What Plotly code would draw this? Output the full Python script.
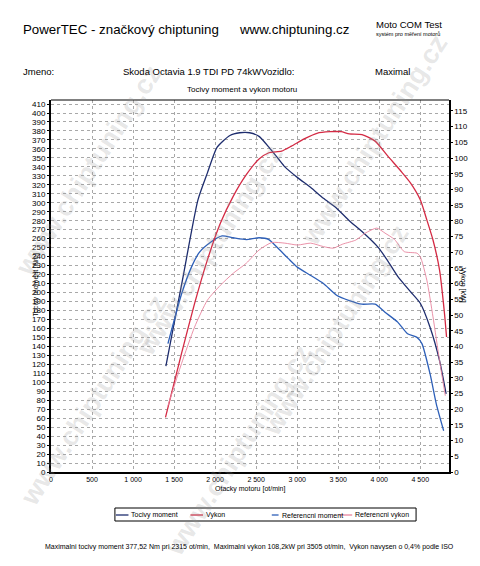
import plotly.graph_objects as go

# --- data ---
rpm_moment = [1400, 1600, 1790, 1905, 2025, 2180, 2300, 2420, 2535, 2655, 2770, 2850,
              3005, 3165, 3320, 3480, 3635, 3790, 3990, 4105, 4225, 4380, 4500, 4620, 4735, 4815]
tocivy_moment = [118, 213, 303, 333, 362, 375, 378, 378, 374, 362, 349, 340,
                 328, 317, 305, 294, 280, 268, 250, 235, 218, 201, 188, 161, 124, 87]

rpm_vykon = [1395, 1590, 1750, 1905, 2065, 2220, 2380, 2535, 2655, 2810, 2930, 3085, 3240,
             3400, 3535, 3635, 3790, 3950, 4105, 4265, 4380, 4500, 4580, 4655, 4735, 4795, 4820]
vykon = [17.4, 37.7, 53.7, 67.5, 79.3, 87.8, 94.7, 99.7, 101.7, 102.2, 103.8, 106.1, 107.9,
         108.4, 108.4, 107.7, 107.5, 105.4, 100.6, 95.8, 92.1, 86.7, 80.3, 73.9, 64.3, 50.5, 43]

rpm_ref_moment = [1425, 1590, 1710, 1810, 1945, 2085, 2220, 2380, 2535, 2655, 2770, 2890, 3005,
                  3165, 3320, 3480, 3635, 3790, 3950, 4070, 4225, 4345, 4460, 4520, 4620, 4695, 4785]
ref_moment = [143, 198, 228, 245, 256, 263, 261, 259, 261, 259, 249, 238, 228,
              219, 210, 197, 191, 187, 187, 178, 167, 154, 150, 143, 109, 76, 46]

rpm_ref_vykon = [1425, 1590, 1750, 1905, 2065, 2220, 2380, 2535, 2690, 2850, 3005, 3165, 3320,
                 3440, 3555, 3715, 3830, 3970, 4070, 4185, 4305, 4460, 4500, 4580, 4655, 4735, 4805]
ref_vykon = [21.1, 34.5, 46.2, 54.7, 59.5, 63.3, 66.5, 70.7, 73.1, 72.9, 72.3, 72.9, 71.8,
             71.3, 72.6, 73.9, 76.1, 77.7, 76.1, 74.1, 70.2, 69.7, 68.6, 61.1, 49.4, 35.5, 24.3]

x_ticks = [0, 500, 1000, 1500, 2000, 2500, 3000, 3500, 4000, 4500]
x_ticktext = ['0', '500', '1 000', '1 500', '2 000', '2 500', '3 000', '3 500', '4 000', '4 500']
moment_ticks = list(range(0, 420, 10))
vykon_ticks = list(range(0, 120, 5))

series_names = ['Tocivy moment', 'Vykon', 'Referencni moment', 'Referencni vykon']
series_colors = ['#1e2d6e', '#d42a44', '#2d5fb8', '#e8849e']

FONT = 'Arial, Liberation Sans, sans-serif'
W, H = 480, 566
L, R, T, B = 51, 18, 100, 94
PW, PH = W - L - R, H - T - B


def paper(x, y):
    # pixel position on the page -> paper coordinates
    return (x - L) / PW, (H - B - y) / PH


fig = go.Figure()

fig.add_trace(go.Scatter(x=rpm_moment, y=tocivy_moment, mode='lines', name=series_names[0],
                         line=dict(color=series_colors[0], width=1.3, shape='spline', smoothing=0.6)))
fig.add_trace(go.Scatter(x=rpm_ref_moment, y=ref_moment, mode='lines', name=series_names[2],
                         line=dict(color=series_colors[2], width=1.3, shape='spline', smoothing=0.6)))
fig.add_trace(go.Scatter(x=rpm_vykon, y=vykon, mode='lines', name=series_names[1], yaxis='y2',
                         line=dict(color=series_colors[1], width=1.3, shape='spline', smoothing=0.6)))
fig.add_trace(go.Scatter(x=rpm_ref_vykon, y=ref_vykon, mode='lines', name=series_names[3], yaxis='y2',
                         line=dict(color=series_colors[3], width=0.9, shape='spline', smoothing=0.6)))

annotations = []


def text(s, x, y, size, anchor='left', angle=0, color='black'):
    px_, py_ = paper(x, y)
    annotations.append(dict(text=s, x=px_, y=py_, xref='paper', yref='paper', showarrow=False,
                            xanchor=anchor, yanchor='middle', textangle=angle,
                            font=dict(family=FONT, size=size, color=color)))


# watermark, kept fully inside the page
for cx, cy in [(90, 170), (95, 400), (215, 250), (245, 450), (345, 330), (385, 140)]:
    text('<b>www.chiptuning.cz</b>', cx, cy, 27, anchor='center', angle=-57,
         color='rgba(150,150,150,0.24)')

# header
text('PowerTEC - značkový chiptuning', 20, 30, 13.3)
text('www.chiptuning.cz', 243, 30, 13.3)
text('Moto COM Test', 385, 25, 9.5)
text('systém pro měření motorů', 385, 34, 5.5)
text('Jmeno:', 20, 71, 9.5)
text('Skoda Octavia 1.9 TDI PD 74kWVozidlo:', 123, 71, 9.5)
text('Maximal', 384, 71, 9.5)
text('Tocivy moment a vykon motoru', 248, 89, 8, anchor='center')

# axis titles
text('Tocivy moment [Nm]', 35, 285, 7, anchor='center', angle=-90)
text('Vykon [kW]', 476, 285, 7, anchor='center', angle=90)
text('Otacky motoru [ot/min]', 257, 489, 7, anchor='center')

# hand-made legend
shapes = []
bx0, by0 = paper(117, 521)
bx1, by1 = paper(428, 508)
shapes.append(dict(type='rect', xref='paper', yref='paper', x0=bx0, y0=by0, x1=bx1, y1=by1,
                   line=dict(color='black', width=1), fillcolor='white'))
leg_sample = [(118, 131), (195, 208), (279, 286), (348, 362)]
leg_text = [132, 209, 287, 363]
for name, col, (s0, s1), tx in zip(series_names, series_colors, leg_sample, leg_text):
    lx0, ly = paper(s0, 515)
    lx1, _ = paper(s1, 515)
    shapes.append(dict(type='line', xref='paper', yref='paper', x0=lx0, x1=lx1, y0=ly, y1=ly,
                       line=dict(color=col, width=1.3)))
    text(name, tx, 515, 7)

# top frame line
shapes.append(dict(type='line', xref='paper', yref='paper', x0=0, x1=1, y0=1, y1=1,
                   line=dict(color='black', width=1)))

text('Maximalni tocivy moment 377,52 Nm pri 2315 ot/min,  Maximalni vykon 108,2kW pri 3505 ot/min,'
     '  Vykon navysen o 0,4% podle ISO', 256, 547, 7, anchor='center')

fig.update_layout(
    width=W, height=H,
    margin=dict(l=L, r=R, t=T, b=B),
    paper_bgcolor='white', plot_bgcolor='white',
    showlegend=False,
    font=dict(family=FONT, color='black'),
    xaxis=dict(range=[0, 4850], tickvals=x_ticks, ticktext=x_ticktext,
               tickfont=dict(size=7), ticks='',
               showline=True, linecolor='black', linewidth=2,
               showgrid=True, gridcolor='#a8a8a8', gridwidth=0.6, griddash='dot', zeroline=False),
    yaxis=dict(range=[0, 414.5], tickvals=moment_ticks, tickfont=dict(size=8),
               ticks='outside', ticklen=2, tickcolor='black',
               showline=True, linecolor='black', linewidth=2,
               showgrid=True, gridcolor='#a8a8a8', gridwidth=0.6, griddash='dot', zeroline=False),
    yaxis2=dict(range=[0, 118.5], tickvals=vykon_ticks, tickfont=dict(size=8),
                overlaying='y', side='right', ticks='outside', ticklen=2, tickcolor='black',
                showline=True, linecolor='black', linewidth=1.5, showgrid=False, zeroline=False),
    annotations=annotations,
    shapes=shapes,
)

# the page's default 8px body margin would push the figure off the window
fig.write_html("out.html", config={'displayModeBar': False},
               post_script="document.body.style.margin='0';")
